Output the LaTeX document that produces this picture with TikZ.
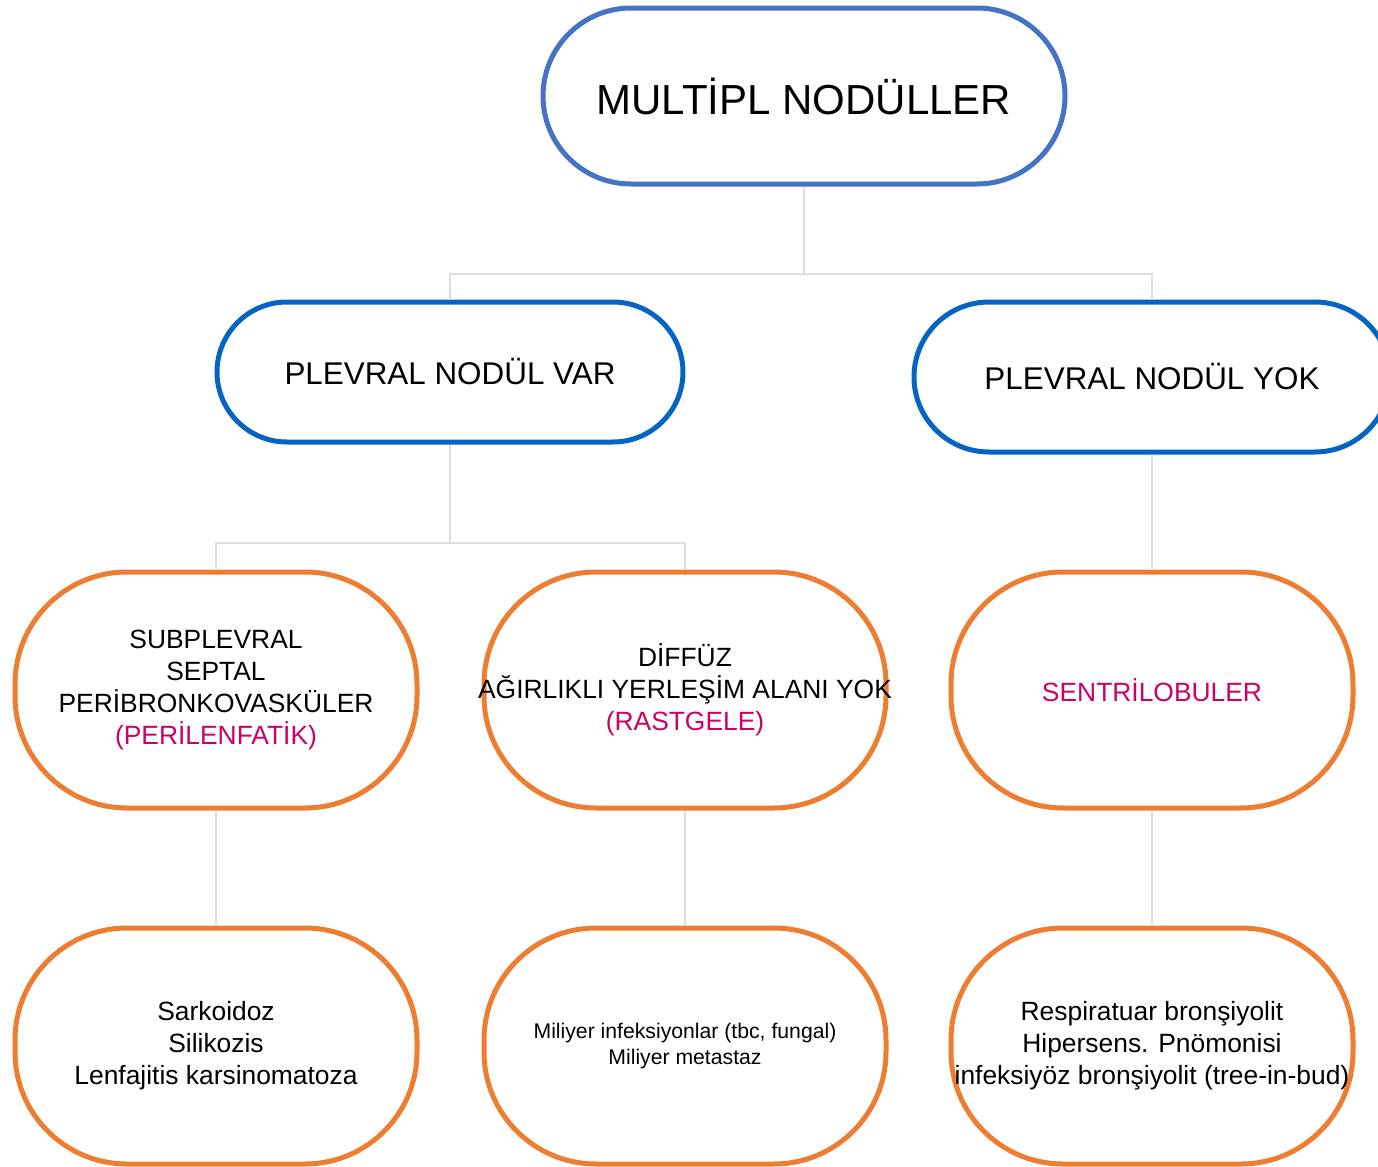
\documentclass[tikz,border=0pt]{standalone}
\usepackage{fontspec}
\setmainfont{Liberation Sans}
\usetikzlibrary{positioning}

\definecolor{topblue}{RGB}{68,114,196}
\definecolor{midblue}{RGB}{5,99,193}
\definecolor{leaforange}{RGB}{237,125,49}
\definecolor{tagpink}{RGB}{204,0,102}
\definecolor{linegray}{RGB}{221,221,221}

\begin{document}
\begin{tikzpicture}[x=0.5pt, y=-0.5pt,
  rootbox/.style={draw=topblue, line width=2.5pt, fill=white, rounded corners=44pt,
    minimum width=261pt, minimum height=88pt, inner sep=0pt, align=center,
    font=\fontsize{21}{25}\selectfont},
  splitbox/.style={draw=midblue, line width=2.5pt, fill=white, rounded corners=35pt,
    minimum width=233pt, minimum height=70pt, inner sep=0pt, align=center,
    font=\fontsize{15.7}{19}\selectfont},
  leafbox/.style={draw=leaforange, line width=2.5pt, fill=white, rounded corners=56pt,
    minimum width=201pt, minimum height=118pt, inner sep=0pt, align=center,
    font=\fontsize{13.2}{16}\selectfont},
  conn/.style={draw=linegray, line width=1pt}]

% Fix the page size
\useasboundingbox (0,0) rectangle (1378,1167);

% Define pink tag text and overhanging line
\def\tag#1{\textcolor{tagpink}{#1}}
\def\wide#1{\makebox[0pt]{#1}}

% Top node
\node[rootbox] (multi) at (804,96) {MULTİPL NODÜLLER};

% Second level
\node[splitbox] (var) at (450,372) {PLEVRAL NODÜL VAR};
\node[splitbox, minimum width=238pt, minimum height=75pt, rounded corners=37.5pt] (yok) at (1152,377) {PLEVRAL NODÜL YOK};

% Third level: distribution
\node[leafbox] (subpl) at (216,690) {SUBPLEVRAL\\SEPTAL\\PERİBRONKOVASKÜLER\\\tag{(PERİLENFATİK)}};
\node[leafbox] (diffuz) at (685,690) {DİFFÜZ\\\wide{AĞIRLIKLI YERLEŞİM ALANI YOK}\\\tag{(RASTGELE)}};
\node[leafbox] (sentri) at (1152,690) {\tag{SENTRİLOBULER}};

% Fourth level: diagnoses
\node[leafbox] (sarko) at (216,1046) {Sarkoidoz\\Silikozis\\Lenfajitis karsinomatoza};
\node[leafbox, font=\fontsize{10.6}{13}\selectfont] (miliyer) at (685,1046) {Miliyer infeksiyonlar (tbc, fungal)\\Miliyer metastaz};
\node[leafbox] (bronsi) at (1152,1046) {Respiratuar bronşiyolit\\Hipersens. Pnömonisi\\\wide{infeksiyöz bronşiyolit (tree-in-bud)}};

% Bus points
\coordinate (bus1) at (804,274);
\coordinate (bus2) at (450,543);

% Draw connectors
\draw[conn] (multi.south) -- (bus1) -| (var.north);
\draw[conn] (bus1) -| (yok.north);
\draw[conn] (var.south) -- (bus2) -| (subpl.north);
\draw[conn] (bus2) -| (diffuz.north);
\draw[conn] (yok.south) -- (sentri.north);
\draw[conn] (subpl.south) -- (sarko.north);
\draw[conn] (diffuz.south) -- (miliyer.north);
\draw[conn] (sentri.south) -- (bronsi.north);

\end{tikzpicture}
\end{document}
